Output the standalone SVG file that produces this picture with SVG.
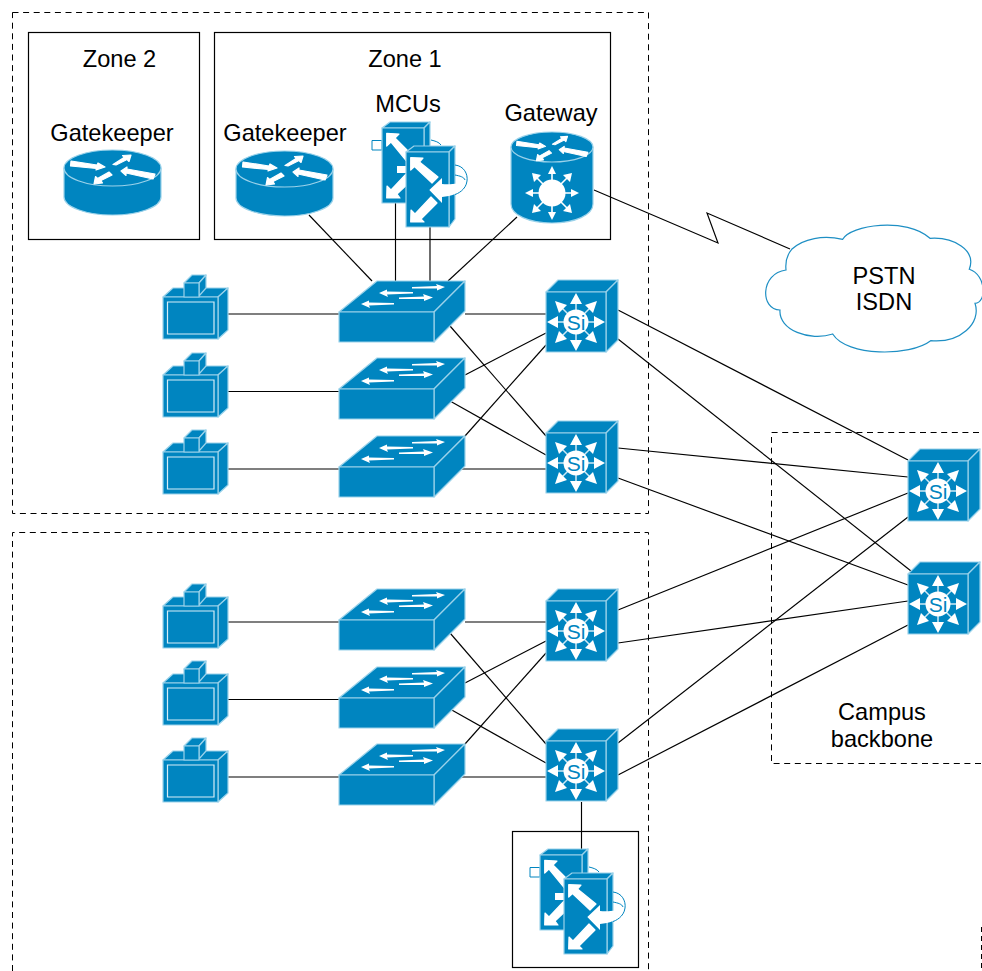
<svg xmlns="http://www.w3.org/2000/svg" width="982" height="971" viewBox="0 0 982 971">
<style>
text{font-family:"Liberation Sans",Arial,sans-serif;font-size:23.6px;fill:#000;text-anchor:middle}
.f{fill:#0085c0;stroke:#9ad2ea;stroke-width:1.2;stroke-linejoin:round}
.w{fill:#fff;stroke:none}
.t{fill:#fff;stroke:#fff;stroke-width:1.200;stroke-linejoin:round}
.arc{fill:none;stroke:#0085c0;stroke-width:1}
.box{fill:none;stroke:#000;stroke-width:1.2}
.dash{fill:none;stroke:#000;stroke-width:1;stroke-dasharray:6 4.600}
#connectors line,#connectors polyline{stroke:#000;stroke-width:1.150;fill:none}
</style>
<defs>
<g id="sw">
<path class="f" d="M0 31L38 0H126L95 31Z"/>
<path class="f" d="M95 31L126 0V30L95 61Z"/>
<path class="f" d="M0 31H95V61H0Z"/>
<g class="w">
<path d="M73 6L98 5L97 3L106 6L98 9.500L98 7.500L73 7.500Z"/>
<path d="M40 12L48 8.500L48 10.500L74 11V12.500L48 13.500L49 16Z"/>
<path d="M60 16.500L85 15.500L84 13L94 16.500L85 20L85 18L60 18Z"/>
<path d="M22 23L30 19.500L30 21.500L55 22V23.500L30 24.500L31 27Z"/>
</g>
</g>
<g id="term">
<path class="f" d="M0 22L10 13H65L55 22Z"/>
<path class="f" d="M55 22L65 13V55L55 64Z"/>
<path class="f" d="M0 22H55V64H0Z"/>
<path d="M4.500 27H51V59H4.500Z" fill="none" stroke="#d5edf7" stroke-width="1.200"/>
<path class="f" d="M21 8L29 0H43L36 8Z"/>
<path class="f" d="M36 8L43 0V13L36 21Z"/>
<path class="f" d="M21 8H36V22H21Z"/>
</g>
<g id="si">
<path class="f" d="M0 12L12 0H72L60 12Z"/>
<path class="f" d="M60 12L72 0V60L60 72Z"/>
<path class="f" d="M0 12H60V72H0Z"/>
<g stroke="#cfe9f5" stroke-width="1.500"><path d="M30 42V16M30 42V68M30 42H4M30 42H56M30 42L13 25M30 42L47 25M30 42L13 59M30 42L47 59"/></g>
<path class="w" d="M30 13L36 24H24ZM30 71L36 60H24ZM1 42L12 36V48ZM59 42L48 36V48ZM9 21L21 25L13 33ZM51 21L47 33L39 25ZM9 63L13 51L21 59ZM51 63L39 59L47 51Z"/>
<circle cx="30" cy="42" r="12.500" fill="#fff"/>
<text x="30" y="49.500" style="font-size:21px;fill:#0085c0">Si</text>
</g>
<g id="rarrows" class="t">
<path d="M7 11L33 15L34 13L41 17L32 20L32.500 18.500L6.500 16Z"/>
<path d="M67 5L65 11.500L63 9.500L52 15L49 14.500L60 7.500L58.500 5.500Z"/>
<path d="M57 21L63 17L63 19L91 24L89 29L62 23L62 25.500Z"/>
<path d="M30 34L31.500 26.500L33.500 28.500L45 22L48 25L37 30.500L38.500 33Z"/>
</g>
<g id="rt">
<path class="f" d="M0 18V47C0 57 22 65 48.500 65S97 57 97 47V18Z"/>
<ellipse class="f" cx="48.500" cy="18" rx="48.500" ry="18"/>
<use href="#rarrows"/>
</g>
<g id="mcu">
<path class="arc" d="M49 18C53 19 57 20 59 23"/>
<path d="M-10 18.500H0V28H-10Z" fill="#fff" stroke="#0085c0" stroke-width="1"/>
<path class="f" d="M0 6L8 0H48L42 6Z"/>
<path class="f" d="M42 6L48 0V75L42 81Z"/>
<path class="f" d="M0 6H42V81H0Z"/>
<path class="t" d="M4.700 11.300L17 12L13 16L33 36L27 42L9 20L4.700 24Z"/>
<path class="t" d="M4.700 76L5 64L9 68L26 50L32 56L15 72L18 76Z"/>
<path class="w" d="M15 44H26V51H15Z"/>
<path class="f" d="M24 30L32 24H73L67 30Z"/>
<path class="f" d="M67 30L73 24V97L67 105Z"/>
<path class="f" d="M24 30H67V105H24Z"/>
<path class="t" d="M28.700 35.700L41 36L37.500 40L56 55L50 61L32.500 44.500L28.700 48Z"/>
<path class="t" d="M28.700 100L29 88L33 92L49 75L55 81L39 97L42 100Z"/>
<path class="w" d="M47.300 68L60 56V62C68 63 78 62 84 57C87 64 80 73 60 75V81Z"/>
<path class="arc" d="M73 43C82 44 86 52 85 59C84 68 75 72 73 72.500"/>
<path class="arc" d="M73 53C78 54 82 55 83 58"/>
</g>
</defs>
<rect width="982" height="971" fill="#fff"/>
<g id="boundaries">
<rect class="dash" x="12.500" y="12.500" width="636" height="501"/>
<path class="dash" d="M12.500 971V532.500H648.500V971"/>
<path class="dash" d="M981 763.500H771.500V432.500H981"/>
<path class="dash" style="stroke-dasharray:5 4" d="M981.500 927V971"/>
</g>
<g id="connectors">
<line x1="309" y1="215" x2="372" y2="281"/><line x1="395.500" y1="203" x2="395.500" y2="281"/><line x1="430" y1="227" x2="430" y2="281"/><line x1="517" y1="217" x2="448" y2="281"/>
<polyline points="594,190 718,243 707,213 790,249"/>
<line x1="228" y1="314" x2="339" y2="314"/><line x1="228" y1="391.500" x2="339" y2="391.500"/><line x1="228" y1="469" x2="339" y2="469"/>
<line x1="228" y1="622" x2="339" y2="622"/><line x1="228" y1="699.500" x2="339" y2="699.500"/><line x1="228" y1="777" x2="339" y2="777"/>
<line x1="465" y1="314" x2="546" y2="314"/><line x1="450" y1="326" x2="546" y2="436"/><line x1="465" y1="375" x2="546" y2="333"/><line x1="450" y1="401" x2="546" y2="455"/><line x1="465" y1="436" x2="546" y2="345"/><line x1="434" y1="469" x2="546" y2="469"/>
<line x1="465" y1="622" x2="546" y2="622"/><line x1="450" y1="633" x2="546" y2="744"/><line x1="465" y1="683" x2="546" y2="641"/><line x1="450" y1="709" x2="546" y2="763"/><line x1="465" y1="744" x2="546" y2="653"/><line x1="434" y1="777" x2="546" y2="777"/>
<line x1="618" y1="310" x2="908" y2="460"/><line x1="618" y1="339" x2="911" y2="571"/><line x1="618" y1="448" x2="908" y2="477"/><line x1="618" y1="478" x2="908" y2="585"/>
<line x1="618" y1="610" x2="908" y2="493"/><line x1="618" y1="643" x2="908" y2="601"/><line x1="618" y1="743" x2="908" y2="517"/><line x1="618" y1="775" x2="908" y2="625"/>
<line x1="581.500" y1="802" x2="581.500" y2="855"/>
</g>
<g id="zone2"><rect class="box" x="28.500" y="32.500" width="171" height="207"/><text x="119.500" y="67">Zone 2</text></g>
<g id="zone1"><rect class="box" x="214.500" y="32.500" width="396" height="207"/><text x="405" y="67">Zone 1</text></g>
<g id="gatekeeper2"><text x="112" y="141">Gatekeeper</text><use href="#rt" x="64" y="150"/></g>
<g id="gatekeeper1"><text x="285" y="141">Gatekeeper</text><use href="#rt" x="236" y="151"/></g>
<g id="mcus"><text x="408" y="112">MCUs</text><use href="#mcu" x="382" y="122"/></g>
<g id="gateway"><text x="551" y="121">Gateway</text>
<path class="f" d="M511 147V204C511 215 529 223 552 223S593 215 593 204V147Z"/>
<ellipse class="f" cx="552" cy="147" rx="41" ry="15"/>
<use href="#rarrows" transform="translate(511 132) scale(.845)"/>
<g stroke="#fff" stroke-width="1.600" fill="none"><path d="M552 193V168M552 193V218M552 193H527M552 193H577M552 193L535 176M552 193L569 176M552 193L535 210M552 193L569 210"/></g>
<path class="w" d="M552 166L556 174H548ZM552 220L556 212H548ZM525 193L533 189V197ZM579 193L571 189V197ZM532 173L541 175L534 182ZM572 173L570 182L563 175ZM532 213L534 204L541 211ZM572 213L563 211L570 204Z"/>
<circle cx="552" cy="193" r="13.500" fill="#fff"/></g>
<g id="cloud"><path d="M791.700 249.300C803.300 238.300 823.300 235 842.700 239.300C850 225 906.700 216.700 930 238.300C953.300 236.700 976.700 250 969.300 269.300C986.700 275 986.700 303.300 975 303.300C981.700 323.300 960 343.300 930.700 340.700C910 356.700 846.700 356.700 832.700 334C810 341.700 778.300 330 780 310C760 310 760 273.300 786 270C785 260 788.300 253.300 791.700 249.300Z" fill="#fff" stroke="#1e8fc4" stroke-width="1.200"/><text x="884" y="284">PSTN</text><text x="884" y="310">ISDN</text></g>
<g id="campus"><text x="882" y="720">Campus</text><text x="882" y="747">backbone</text></g>
<g id="term1"><use href="#term" x="163" y="275"/></g><g id="term2"><use href="#term" x="163" y="353"/></g><g id="term3"><use href="#term" x="163" y="430"/></g>
<g id="term4"><use href="#term" x="163" y="584"/></g><g id="term5"><use href="#term" x="163" y="661"/></g><g id="term6"><use href="#term" x="163" y="738"/></g>
<g id="sw1"><use href="#sw" x="339" y="281"/></g><g id="sw2"><use href="#sw" x="339" y="358"/></g><g id="sw3"><use href="#sw" x="339" y="436"/></g>
<g id="sw4"><use href="#sw" x="339" y="589"/></g><g id="sw5"><use href="#sw" x="339" y="667"/></g><g id="sw6"><use href="#sw" x="339" y="744"/></g>
<g id="si1"><use href="#si" x="546" y="280"/></g><g id="si2"><use href="#si" x="546" y="421"/></g><g id="si3"><use href="#si" x="546" y="589"/></g><g id="si4"><use href="#si" x="546" y="729"/></g>
<g id="si5"><use href="#si" x="908" y="449"/></g><g id="si6"><use href="#si" x="908" y="562"/></g>
<g id="mcuBox"><rect class="box" x="512.500" y="831.500" width="126" height="136"/><use href="#mcu" x="540" y="849"/></g>
</svg>
